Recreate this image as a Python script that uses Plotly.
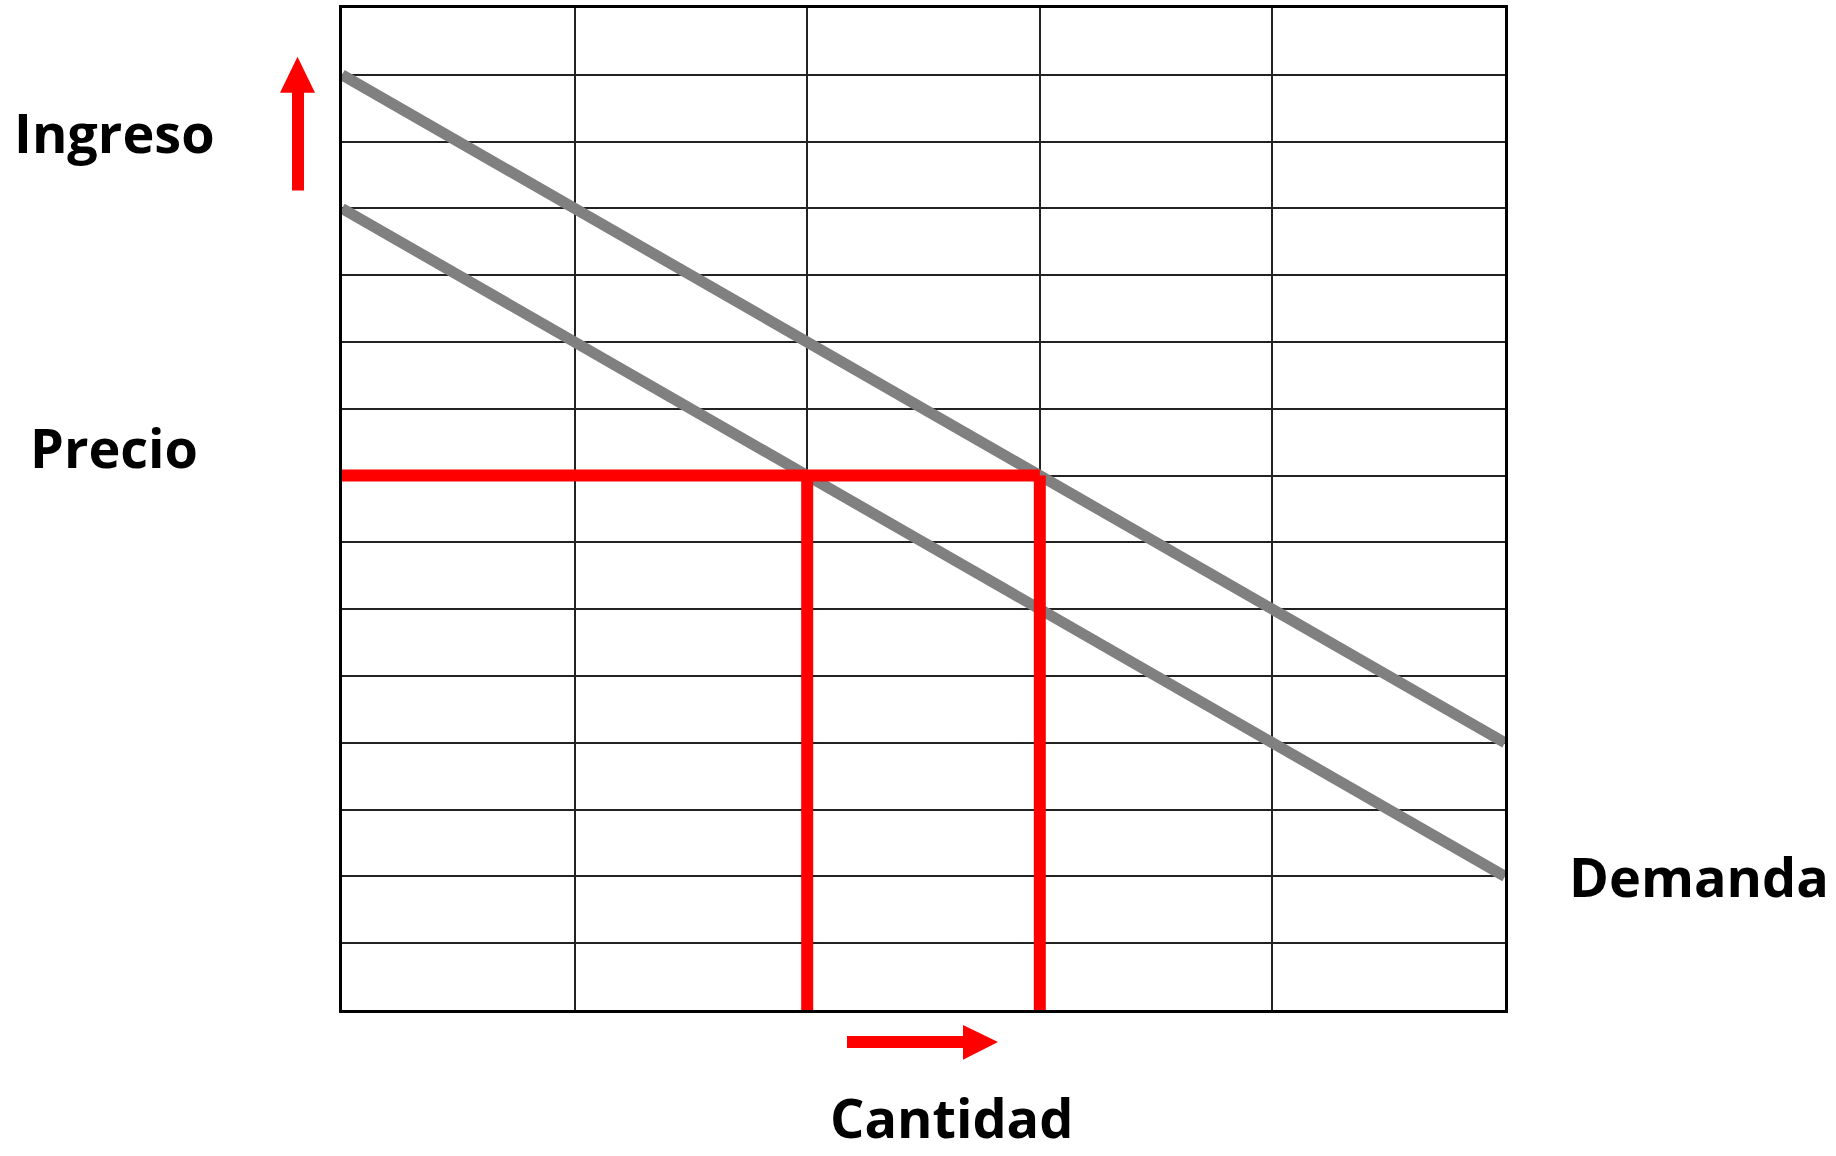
import plotly.graph_objects as go

# Data
cantidad = [0, 5]
demanda_inicial = [12, 2]
demanda_nueva = [14, 4]
precio = 8
cantidad_inicial = 2
cantidad_nueva = 3
x_max = 5
y_max = 15

W, H = 1836, 1156
L, R, T, B = 342, 331, 5, 146
pw, ph = W - L - R, H - T - B


def px(x):
    return (x - L) / pw


def py(y):
    return (H - B - y) / ph


GREY = "#808080"
RED = "#FF0000"

fig = go.Figure()
fig.add_trace(go.Scatter(x=cantidad, y=demanda_inicial, mode="lines",
                         line=dict(color=GREY, width=11), hoverinfo="skip"))
fig.add_trace(go.Scatter(x=cantidad, y=demanda_nueva, mode="lines",
                         line=dict(color=GREY, width=11), hoverinfo="skip"))
fig.add_trace(go.Scatter(x=[0, cantidad_nueva], y=[precio, precio], mode="lines",
                         line=dict(color=RED, width=12), hoverinfo="skip"))
for q in (cantidad_inicial, cantidad_nueva):
    fig.add_trace(go.Scatter(x=[q, q], y=[0, precio], mode="lines",
                             line=dict(color=RED, width=12), hoverinfo="skip"))

shapes = []
# Up arrow (Ingreso)
shapes.append(dict(type="rect", xref="paper", yref="paper",
                   x0=px(292), x1=px(304), y0=py(188), y1=py(88),
                   fillcolor=RED, line=dict(width=0)))
shapes.append(dict(type="path", xref="paper", yref="paper",
                   path=f"M {px(280)},{py(90)} L {px(315)},{py(90)} L {px(297.5)},{py(54)} Z",
                   fillcolor=RED, line=dict(width=0)))
# Right arrow (Cantidad)
shapes.append(dict(type="rect", xref="paper", yref="paper",
                   x0=px(847), x1=px(965), y0=py(1036), y1=py(1048),
                   fillcolor=RED, line=dict(width=0)))
shapes.append(dict(type="path", xref="paper", yref="paper",
                   path=f"M {px(963)},{py(1025)} L {px(963)},{py(1060)} L {px(998)},{py(1042)} Z",
                   fillcolor=RED, line=dict(width=0)))

font = dict(family="Open Sans", size=54, color="black")
annotations = [
    dict(text="<b>Ingreso</b>", x=px(114), y=py(129), xref="paper", yref="paper",
         showarrow=False, xanchor="center", yanchor="middle", font=font),
    dict(text="<b>Precio</b>", x=px(114), y=py(445), xref="paper", yref="paper",
         showarrow=False, xanchor="center", yanchor="middle", font=font),
    dict(text="<b>Demanda</b>", x=px(1699), y=py(876), xref="paper", yref="paper",
         showarrow=False, xanchor="center", yanchor="middle", font=font),
    dict(text="<b>Cantidad</b>", x=px(951), y=py(1117), xref="paper", yref="paper",
         showarrow=False, xanchor="center", yanchor="middle", font=font),
]

fig.update_layout(
    width=W, height=H,
    margin=dict(l=L, r=R, t=T, b=B),
    paper_bgcolor="white", plot_bgcolor="white",
    showlegend=False,
    shapes=shapes,
    annotations=annotations,
    xaxis=dict(range=[0, x_max], dtick=1, tick0=0, showgrid=True, gridcolor="#222222",
               gridwidth=1.5, zeroline=False, showticklabels=False, ticks="",
               showline=True, linecolor="black", linewidth=3, mirror=True,
               fixedrange=True),
    yaxis=dict(range=[0, y_max], dtick=1, tick0=0, showgrid=True, gridcolor="#222222",
               gridwidth=1.5, zeroline=False, showticklabels=False, ticks="",
               showline=True, linecolor="black", linewidth=3, mirror=True,
               fixedrange=True),
)

fig.write_html("out.html", config={"displayModeBar": False},
               post_script="document.body.style.margin='0';document.body.style.overflow='hidden';")
